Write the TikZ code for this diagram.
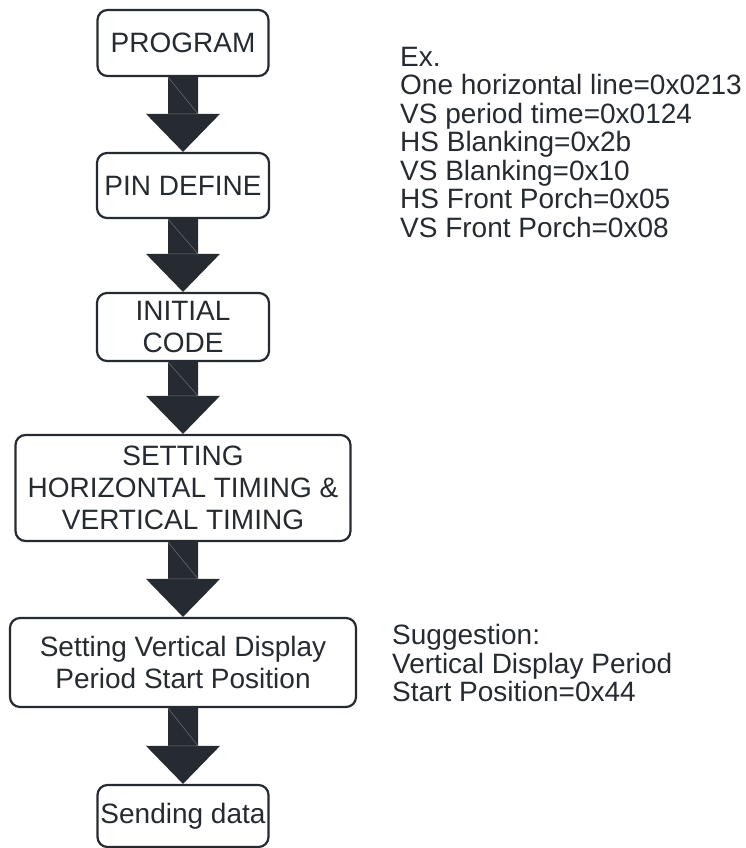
\documentclass[tikz,border=0pt]{standalone}
\usepackage{fontspec}
\setmainfont{Liberation Sans}
\usetikzlibrary{calc}
\definecolor{inkgray}{HTML}{262B31}
\definecolor{seamgray}{HTML}{6A7078}

\newcommand{\notefont}{\fontsize{28}{28.5}\selectfont\lineskiplimit -20pt\relax}
\newcommand{\tipfont}{\fontsize{28}{28.5}\selectfont\lineskiplimit -20pt\relax}

\tikzset{
  flowbox/.style = {draw = inkgray, line width = 2.2pt, rounded corners = 10pt,
    fill = white, text = inkgray, inner sep = 0pt, align = center,
    font = \fontsize{28}{32}\selectfont},
  note/.style = {text = inkgray, inner sep = 0pt, align = left, font = \notefont},
}

% thick block arrow from the bottom of #1 to the top of #2
\newcommand{\flowarrow}[2]{%
  \fill[inkgray] ($(#1.south)+(-15,0)$) -- ($(#1.south)+(15,0)$)
    -- ($(#2.north)+(15,-38)$) -- ($(#2.north)+(37,-38)$) -- (#2.north)
    -- ($(#2.north)+(-37,-38)$) -- ($(#2.north)+(-15,-38)$) -- cycle;
  \draw[seamgray, line width = 0.5pt] ($(#1.south)+(-15,0)$) -- ($(#2.north)+(15,-38)$)
    -- ($(#2.north)+(-15,-38)$);
}

\begin{document}
\begin{tikzpicture}[x = 1pt, y = -1pt]
\useasboundingbox (0,0) rectangle (745,848);

% steps
\node[flowbox, minimum width = 171, minimum height = 66] (prog) at (183,43) {PROGRAM};
\node[flowbox, minimum width = 172, minimum height = 65] (pin) at (183,185.5) {PIN DEFINE};
\node[flowbox, minimum width = 172, minimum height = 68] (init) at (183,327) {INITIAL\\CODE};
\node[flowbox, minimum width = 335, minimum height = 106] (timing) at (183,488)
  {SETTING\\HORIZONTAL TIMING \&\\VERTICAL TIMING};
\node[flowbox, minimum width = 346, minimum height = 89] (vdisp) at (183,662.5)
  {Setting Vertical Display\\Period Start Position};
\node[flowbox, minimum width = 171, minimum height = 62] (send) at (183,816) {Sending data};

\flowarrow{prog}{pin}
\flowarrow{pin}{init}
\flowarrow{init}{timing}
\flowarrow{timing}{vdisp}
\flowarrow{vdisp}{send}

% side notes
\node[note, anchor = north west] (example) at (400,47)
  {Ex.\\One horizontal line=0x0213\\VS period time=0x0124\\HS Blanking=0x2b\\
   VS Blanking=0x10\\HS Front Porch=0x05\\VS Front Porch=0x08};
\node[note, anchor = north west, font = \tipfont] (suggest) at (392,624.5)
  {Suggestion:\\Vertical Display Period\\Start Position=0x44};
\end{tikzpicture}
\end{document}
